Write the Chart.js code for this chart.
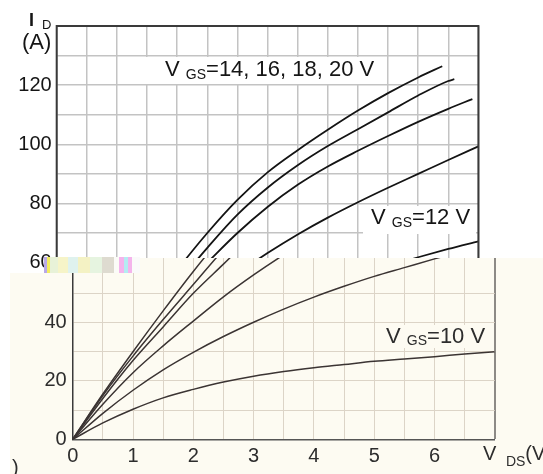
<!DOCTYPE html>
<html>
<head>
<meta charset="utf-8">
<title>I D vs V DS</title>
<script src="https://cdn.jsdelivr.net/npm/chart.js@4.4.1/dist/chart.umd.min.js"></script>
<style>
    html, body { margin: 0; padding: 0; background: #fff; }
    #stage { position: relative; width: 543px; height: 474px; overflow: hidden;
             font-family: "Liberation Sans", Arial, sans-serif; color: #151515; }
    canvas { position: absolute; left: 0; }
    #topChart { top: 0; }
    #bottomChart { top: 258px; background: #fdfbf2;
        clip-path: polygon(140px 0, 543px 0, 543px 216px, 10px 216px, 10px 15px, 140px 15px); }
    #noise { position: absolute; left: 44px; top: 257px; width: 96px; height: 16px;
        background: linear-gradient(90deg, #b8a8e8 0 3px, #f2ec60 3px 6px, #e8f2d8 6px 14px,
            #f6f4c8 14px 24px, #dff2ee 24px 34px, #f4f2c4 34px 46px, #e6f4e0 46px 58px,
            #dedbd0 58px 70px, #fbfbf7 70px 75px, #f4b4ec 75px 80px, #b4ecf2 80px 84px,
            #f4b4ec 84px 88px, #fafafa 88px 96px); }
    .box { position: absolute; }
    .t { position: absolute; white-space: nowrap; line-height: 1; }
    .sub { position: relative; font-size: 14px; }
</style>
</head>
<body>
<div id="stage">
    <canvas id="topChart" width="543" height="474"></canvas>
    <div id="noise"></div>
    <canvas id="bottomChart" width="543" height="216"></canvas>

    <!-- axis titles -->
    <div class="t" style="left:29px;top:11px;font-size:18px;font-weight:bold;">I</div>
    <div class="t" style="left:42px;top:18px;font-size:13px;">D</div>
    <div class="t" style="left:22px;top:31px;font-size:22px;">(A)</div>
    <div class="t" style="left:483px;top:443px;font-size:20px;color:#2d2d2d;">V <span class="sub" style="top:6px;margin-left:4px;">DS</span>(V)</div>
    <div class="t" style="left:12px;top:457px;font-size:20px;color:#2d2d2d;">)</div>

    <!-- curve labels -->
    <div class="box" style="left:142px;top:57px;width:243px;height:27px;background:#fff;"></div>
    <div class="t" style="left:165px;top:58px;font-size:22px;">V <span class="sub" style="top:3px;">GS</span>=14, 16, 18, 20 V</div>
    <div class="box" style="left:363px;top:206px;width:113px;height:28px;background:#fff;"></div>
    <div class="t" style="left:371px;top:206px;font-size:22px;">V <span class="sub" style="top:3px;">GS</span>=12 V</div>
    <div class="box" style="left:382px;top:325px;width:109px;height:23px;background:#fdfbf2;"></div>
    <div class="t" style="left:386px;top:325px;font-size:22px;color:#2d2d2d;">V <span class="sub" style="top:2px;">GS</span>=10 V</div>
</div>

<script>
// Drain current ID (A) against drain-source voltage VDS (V), one curve per VGS
const vdsStep = [0, 0.5, 1, 1.5, 2, 2.5, 3, 3.5, 4, 4.5, 5, 5.5, 6, 6.5, 7];
const vds20 = [0, 0.5, 1, 1.5, 2, 2.5, 3, 3.5, 4, 4.5, 5, 5.5, 6, 6.4];
const vds18 = [0, 0.5, 1, 1.5, 2, 2.5, 3, 3.5, 4, 4.5, 5, 5.5, 6, 6.5, 6.6];
const vds16 = [0, 0.5, 1, 1.5, 2, 2.5, 3, 3.5, 4, 4.5, 5, 5.5, 6, 6.5, 6.9];

const id20 = [0, 15.5, 30, 44, 57.5, 70, 81.2, 90.5, 98, 104.9, 111.4, 117.3, 122.6, 126.4];
const id18 = [0, 15, 28.5, 41, 53, 65, 76.2, 85.3, 92.9, 99.4, 105.1, 110.8, 116.5, 121.4, 122];
const id16 = [0, 14, 27, 38.5, 50, 60, 70, 78.8, 86.3, 92.5, 97.8, 102.8, 107.6, 112, 115.3];
const id14 = [0, 12, 22.8, 32, 40.5, 48.8, 56.3, 63.2, 69.5, 75.2, 80.4, 85.3, 90, 94.7, 99.3];
const id12 = [0, 8.9, 16.8, 23.8, 29.8, 35.2, 40.1, 44.6, 48.7, 52.4, 55.8, 58.8, 61.8, 64.6, 67.2];
const id10 = [0, 5.6, 10.3, 14.2, 17.1, 19.6, 21.6, 23.2, 24.5, 25.6, 26.7, 27.5, 28.3, 29.2, 30];

const vgsLevels = [20, 18, 16, 14, 12, 10];

// tick labels
const yTicksTop = [60, 80, 100, 120];
const yTicksBottom = [0, 20, 40];
const xTicks = [0, 1, 2, 3, 4, 5, 6];

Chart.defaults.font.family = "'Liberation Sans', Arial, sans-serif";

function pts(xs, ys) {
    return xs.map((x, i) => ({ x: x, y: ys[i] }));
}

const curves = [
    pts(vds20, id20), pts(vds18, id18), pts(vds16, id16),
    pts(vdsStep, id14), pts(vdsStep, id12), pts(vdsStep, id10)
];

function makeDatasets(color, width) {
    return curves.map((c, k) => ({
        label: 'VGS=' + vgsLevels[k] + ' V',
        data: c,
        borderColor: color,
        borderWidth: width,
        pointRadius: 0,
        fill: false,
        cubicInterpolationMode: 'monotone'
    }));
}

// dark frame round the upper plot
const frame = {
    id: 'frame',
    afterDatasetsDraw(chart) {
        const a = chart.chartArea, c = chart.ctx;
        c.save();
        c.strokeStyle = '#3a3a3a';
        c.lineWidth = 2;
        c.strokeRect(a.left, a.top, a.right - a.left, a.bottom - a.top);
        c.restore();
    }
};

// Upper picture: white grid, 0..140 A
new Chart(document.getElementById('topChart'), {
    type: 'line',
    data: { datasets: makeDatasets('#141414', 1.8) },
    options: {
        responsive: false,
        animation: false,
        devicePixelRatio: 1,
        layout: { padding: { left: 0, top: 26, right: 64.6, bottom: 0 } },
        plugins: { legend: { display: false }, tooltip: { enabled: false } },
        scales: {
            x: {
                type: 'linear', min: 0, max: 7,
                afterFit: s => { s.height = 34; },
                ticks: { display: false, stepSize: 0.5 },
                grid: { color: '#c3c3c3', lineWidth: 1.5, drawTicks: false },
                border: { display: false }
            },
            y: {
                min: 0, max: 140,
                afterFit: s => { s.width = 56.7; s.paddingTop = 0; },
                ticks: {
                    stepSize: 10, padding: 5, color: '#151515',
                    font: { size: 20 },
                    callback: v => yTicksTop.includes(v) ? v : ''
                },
                grid: { color: '#c3c3c3', lineWidth: 1.5, drawTicks: false },
                border: { display: false }
            }
        }
    },
    plugins: [frame]
});

// Lower picture: cream grid, 0..60 A
new Chart(document.getElementById('bottomChart'), {
    type: 'line',
    data: { datasets: makeDatasets('#3b3433', 1.5) },
    options: {
        responsive: false,
        animation: false,
        devicePixelRatio: 1,
        layout: { padding: { left: 0, top: 0, right: 48.2, bottom: 0 } },
        plugins: { legend: { display: false }, tooltip: { enabled: false } },
        scales: {
            x: {
                type: 'linear', min: 0, max: 7,
                afterFit: s => { s.height = 34.7; },
                ticks: {
                    stepSize: 0.5, autoSkip: false, maxRotation: 0, padding: 5,
                    color: '#2d2d2d', font: { size: 20 },
                    callback: v => xTicks.includes(v) ? v : ''
                },
                grid: {
                    drawTicks: false,
                    color: ctx => (ctx.tick && ctx.tick.value === 7) ? '#8d8a86' : '#dcd4c7',
                    lineWidth: ctx => (ctx.tick && ctx.tick.value === 7) ? 2 : 1
                },
                border: { display: true, color: '#555', width: 1.5 }
            },
            y: {
                min: 0, max: 62.1,
                afterFit: s => { s.width = 72.7; s.paddingTop = 0; },
                ticks: {
                    stepSize: 10, padding: 6, color: '#2d2d2d',
                    font: { size: 20 },
                    callback: v => yTicksBottom.includes(v) ? v : ''
                },
                grid: {
                    drawTicks: false,
                    color: ctx => (ctx.tick && ctx.tick.value % 10 === 0) ? '#dcd4c7' : 'rgba(0,0,0,0)'
                },
                border: { display: true, color: '#3a3a3a', width: 1.5 }
            }
        }
    }
});
</script>
</body>
</html>
